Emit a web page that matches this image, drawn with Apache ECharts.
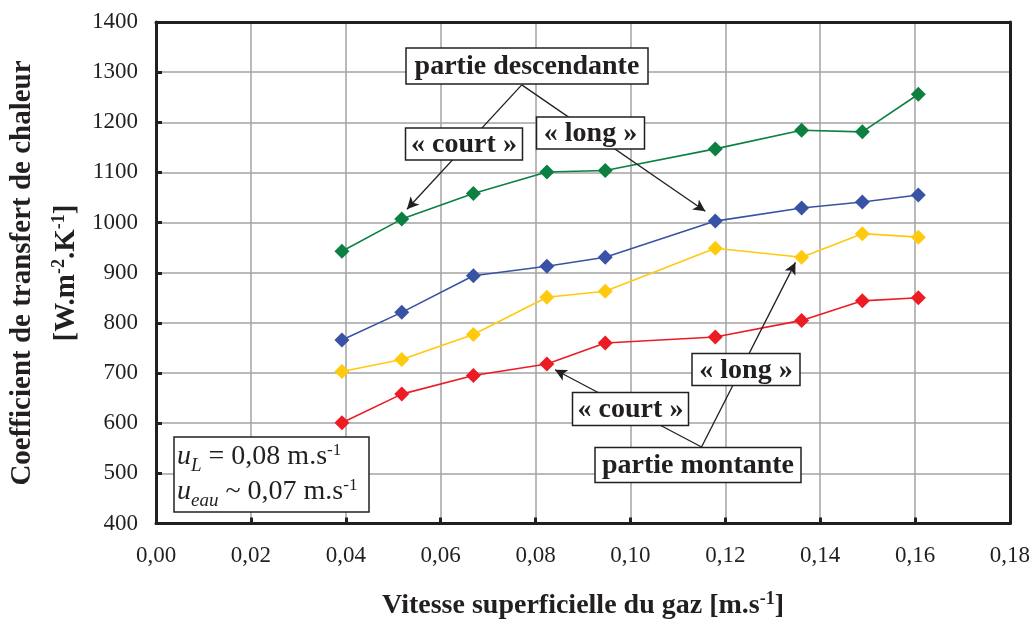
<!DOCTYPE html>
<html>
<head>
<meta charset="utf-8">
<script src="https://cdn.jsdelivr.net/npm/echarts@6/dist/echarts.min.js"></script>
<style>
html,body{margin:0;padding:0;background:#fff;}
#chart{width:1033px;height:626px;}
</style>
</head>
<body>
<div id="chart"></div>
<script>
// ---- data ----
const gasVelocity = [0.0392, 0.0518, 0.0669, 0.0824, 0.0947, 0.1179, 0.1361, 0.1489, 0.1607];
const descendanteCourt = [943, 1007, 1058, 1101, 1104, 1147, 1184, 1181, 1256];
const descendanteLong  = [766, 821, 894, 913, 931, 1003, 1029, 1041, 1055];
const montanteLong     = [703, 727, 777, 851, 863, 949, 931, 978, 971];
const montanteCourt    = [601, 658, 695, 718, 760, 772, 805, 844, 850];
const xTicks = [0, 0.18, 0.02];
const yTicks = [400, 1400, 100];

// annotation arrows (data coordinates: start -> end)
const arrows = [
  [[0.0771, 1274.6], [0.0529, 1026.6]],
  [[0.0771, 1274.6], [0.1158, 1022.6]],
  [[0.1150, 552.6], [0.0841, 706.6]],
  [[0.1150, 552.6], [0.1348, 920.6]]
];
// annotation boxes (pixel centre, size)
const boxes = [
  {text: 'partie descendante', cx: 527, cy: 66, w: 242, h: 36},
  {text: '« court »', cx: 464, cy: 144, w: 117, h: 32},
  {text: '« long »', cx: 590.5, cy: 133, w: 108, h: 32},
  {text: 'partie montante', cx: 698, cy: 465, w: 206, h: 35},
  {text: '« court »', cx: 630.5, cy: 409, w: 116, h: 33},
  {text: '« long »', cx: 746, cy: 369.5, w: 108, h: 32}
];

const FONT = 'Liberation Serif';
const INK = '#231f20';

function pairs(ys) { return gasVelocity.map((x, i) => [x, ys[i]]); }
function mkSeries(name, ys, color, extra) {
  return Object.assign({
    name: name, type: 'line', data: pairs(ys),
    symbol: 'diamond', symbolSize: 15,
    lineStyle: {color: color, width: 1.6},
    itemStyle: {color: color},
    z: 3
  }, extra || {});
}

const chart = echarts.init(document.getElementById('chart'), null, {renderer: 'canvas'});

const graphics = [];
boxes.forEach(b => {
  graphics.push({
    type: 'rect', z: 100,
    shape: {x: b.cx - b.w / 2, y: b.cy - b.h / 2, width: b.w, height: b.h},
    style: {fill: '#fff', stroke: INK, lineWidth: 1.5}
  });
  graphics.push({
    type: 'text', z: 101, x: b.cx, y: b.cy + 1,
    style: {text: b.text, font: 'bold 28px "' + FONT + '"', fill: INK,
            align: 'center', verticalAlign: 'middle', textAlign: 'center', textVerticalAlign: 'middle'}
  });
});
// legend-like info box
graphics.push({
  type: 'rect', z: 100,
  shape: {x: 174, y: 437, width: 195, height: 75},
  style: {fill: '#fff', stroke: INK, lineWidth: 1.5}
});
const infoRich = {
  i: {fontFamily: FONT, fontStyle: 'italic', fontSize: 28, lineHeight: 36, fill: INK, verticalAlign: 'middle'},
  sub: {fontFamily: FONT, fontStyle: 'italic', fontSize: 19, lineHeight: 19, fill: INK, verticalAlign: 'bottom'},
  n: {fontFamily: FONT, fontSize: 28, lineHeight: 36, fill: INK, verticalAlign: 'middle'},
  sup: {fontFamily: FONT, fontSize: 17, lineHeight: 17, fill: INK, verticalAlign: 'top', padding: [3, 0, 0, 0]}
};
graphics.push({
  type: 'text', z: 101, x: 177, y: 457,
  style: {text: '{i|u}{sub|L}{n| = 0,08 m.s}{sup|-1}', rich: infoRich,
          align: 'left', verticalAlign: 'middle', textAlign: 'left', textVerticalAlign: 'middle'}
});
graphics.push({
  type: 'text', z: 101, x: 177, y: 492,
  style: {text: '{i|u}{sub|eau}{n| ~ 0,07 m.s}{sup|-1}', rich: infoRich,
          align: 'left', verticalAlign: 'middle', textAlign: 'left', textVerticalAlign: 'middle'}
});
// axis titles
const titleRich = {
  b: {fontFamily: FONT, fontWeight: 'bold', fontSize: 29, lineHeight: 44, fill: INK, verticalAlign: 'middle'},
  s: {fontFamily: FONT, fontWeight: 'bold', fontSize: 18, lineHeight: 18, fill: INK, verticalAlign: 'top', padding: [5, 0, 0, 0]}
};
graphics.push({
  type: 'text', z: 50, x: 45, y: 273, rotation: Math.PI / 2,
  style: {text: '{b|Coefficient de transfert de chaleur}\n{b|[W.m}{s|-2}{b|.K}{s|-1}{b|]}', rich: titleRich,
          align: 'center', verticalAlign: 'middle', textAlign: 'center', textVerticalAlign: 'middle'}
});
const xTitleRich = {
  b: {fontFamily: FONT, fontWeight: 'bold', fontSize: 28, lineHeight: 40, fill: INK, verticalAlign: 'middle'},
  s: {fontFamily: FONT, fontWeight: 'bold', fontSize: 18, lineHeight: 18, fill: INK, verticalAlign: 'top', padding: [4, 0, 0, 0]}
};
graphics.push({
  type: 'text', z: 50, x: 583, y: 606,
  style: {text: '{b|Vitesse superficielle du gaz [m.s}{s|-1}{b|]}', rich: xTitleRich,
          align: 'center', verticalAlign: 'middle', textAlign: 'center', textVerticalAlign: 'middle'}
});

const axisLineStyle = {color: INK, width: 3};
const splitLineStyle = {color: '#a3a3a3', width: 1.5};

const option = {
  animation: false,
  backgroundColor: '#fff',
  textStyle: {fontFamily: FONT},
  grid: {left: 156, right: 23, top: 22, bottom: 102.5, containLabel: false},
  xAxis: [{
    type: 'value', min: xTicks[0], max: xTicks[1], interval: xTicks[2],
    axisLine: {show: true, onZero: false, lineStyle: axisLineStyle},
    axisTick: {show: true, inside: true, length: 6, lineStyle: {color: INK, width: 3}},
    axisLabel: {color: INK, fontSize: 23, fontFamily: FONT, margin: 21,
                formatter: v => v.toFixed(2).replace('.', ',')},
    splitLine: {show: true, lineStyle: splitLineStyle, showMinLine: false, showMaxLine: false}
  }, {
    type: 'value', position: 'top', min: xTicks[0], max: xTicks[1], interval: xTicks[2], z: 5,
    axisLine: {show: true, onZero: false, lineStyle: axisLineStyle},
    axisTick: {show: false}, axisLabel: {show: false}, splitLine: {show: false}
  }],
  yAxis: [{
    type: 'value', min: yTicks[0], max: yTicks[1], interval: yTicks[2],
    axisLine: {show: true, onZero: false, lineStyle: axisLineStyle},
    axisTick: {show: true, inside: true, length: 6, lineStyle: {color: INK, width: 3}},
    axisLabel: {color: INK, fontSize: 23, fontFamily: FONT, margin: 18,
                formatter: v => String(Math.round(v))},
    splitLine: {show: true, lineStyle: splitLineStyle, showMinLine: false, showMaxLine: false}
  }, {
    type: 'value', position: 'right', min: yTicks[0], max: yTicks[1], interval: yTicks[2], z: 5,
    axisLine: {show: true, onZero: false, lineStyle: axisLineStyle},
    axisTick: {show: false}, axisLabel: {show: false}, splitLine: {show: false}
  }],
  series: [
    mkSeries('partie descendante « court »', descendanteCourt, '#0b8040'),
    mkSeries('partie descendante « long »', descendanteLong, '#3953a4'),
    mkSeries('partie montante « long »', montanteLong, '#ffc90e'),
    mkSeries('partie montante « court »', montanteCourt, '#ed1c24', {
      markLine: {
        silent: true, animation: false,
        symbol: ['none', 'arrow'], symbolSize: [9, 12],
        label: {show: false},
        lineStyle: {color: INK, width: 1.3, type: 'solid'},
        emphasis: {disabled: true},
        z: 10,
        data: arrows.map(a => [{coord: a[0]}, {coord: a[1]}])
      }
    })
  ],
  graphic: {elements: graphics}
};
chart.setOption(option);
</script>
</body>
</html>
